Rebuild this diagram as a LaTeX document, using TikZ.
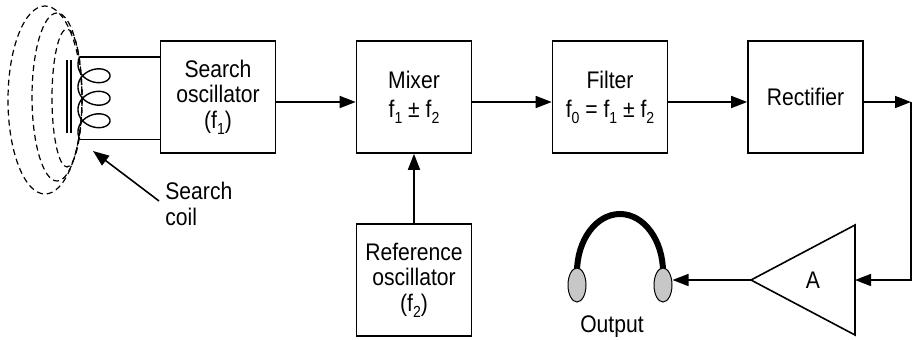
\documentclass[tikz,border=0pt]{standalone}
\usepackage{fontspec}
\setmainfont{Liberation Sans}[FakeStretch=0.88]
\usetikzlibrary{arrows.meta,shapes.geometric}

\definecolor{cupgray}{gray}{0.78}
\newcommand\lowidx[1]{\raisebox{-2.8pt}{\footnotesize #1}}

\begin{document}
\begin{tikzpicture}[x=0.5pt, y=-0.5pt,
  block node/.style={draw, line width=0.8pt, minimum width=57.5pt, minimum height=56pt, align=center, inner sep=1pt},
  signal edge/.style={-{Triangle[length=8pt,width=6pt]}, line width=0.8pt},
  wire/.style={line width=0.8pt},
  field line/.style={dash pattern=on 3pt off 2pt, line width=0.6pt},
  ear cup/.style={ellipse, draw, fill=cupgray, line width=0.5pt, minimum width=9pt, minimum height=17pt, inner sep=0pt},
  font=\fontsize{12}{12.8}\selectfont
]
\useasboundingbox (0,0) rectangle (918,339);

% field lines round the search coil
\draw[field line] (45,100) ellipse [x radius=37, y radius=94];
\draw[field line] (57,97) ellipse [x radius=25, y radius=84];
\draw[field line] (67,98) ellipse [x radius=15, y radius=69];

% core and winding
\draw[wire] (66.7,60) -- (66.7,133) (70.7,60) -- (70.7,133);
\draw[line width=0.7pt, variable=\t, domain=-30:1110, samples=240, smooth]
  plot ({94-16*cos(\t)}, {64.5+3.58*\t*pi/180+12*sin(\t)});
\coordinate (coil top) at (80.1,57.1);
\coordinate (coil bottom) at (80.1,139.35);

% blocks
\node[block node] (search) at (218,97) {Search\\oscillator\\(f\lowidx{1})};
\node[block node] (mixer) at (414,97) {Mixer\\[2pt]f\lowidx{1} ± f\lowidx{2}};
\node[block node] (filter) at (610,97) {Filter\\[2pt]f\lowidx{0} = f\lowidx{1} ± f\lowidx{2}};
\node[block node] (rect) at (805.5,97) {Rectifier};
\node[block node] (refosc) at (414,280) {Reference\\oscillator\\(f\lowidx{2})};

% amplifier
\coordinate (amp in) at (855,280);
\coordinate (amp out) at (751,280);
\draw[wire] (855,225) -- (amp out) -- (855,335) -- cycle;
\node (amp) at (813,280) {A};
\coordinate (tap) at (911,102);

% headphones
\draw[line width=3pt] (577,272) arc[start angle=180, end angle=360, x radius=43, y radius=58];
\node[ear cup] (left cup) at (577,285) {};
\node[ear cup] (right cup) at (663,285) {};
\node (output) at (612,327) {Output};

% labels
\node[align=left, anchor=west, inner sep=1pt] (coil label) at (163,204) {Search\\coil};
\coordinate (coil tip) at (93,151);

% connections
\draw[wire] (coil top) -- (coil top -| search.west);
\draw[wire] (coil bottom) -- (coil bottom -| search.west);
\draw[signal edge, shorten <=2.5pt] (coil label.west) -- (coil tip);
\draw[signal edge] ([yshift=-2.5pt]search.east) -- ([yshift=-2.5pt]mixer.west);
\draw[signal edge] ([yshift=-2.5pt]mixer.east) -- ([yshift=-2.5pt]filter.west);
\draw[signal edge] ([yshift=-2.5pt]filter.east) -- ([yshift=-2.5pt]rect.west);
\draw[signal edge] (refosc) -- (mixer);
\draw[signal edge] ([yshift=-2.5pt]rect.east) -- (tap);
\draw[signal edge] (tap) |- (amp in);
\draw[signal edge] (amp out) -- (right cup.east |- amp out);
\end{tikzpicture}
\end{document}
